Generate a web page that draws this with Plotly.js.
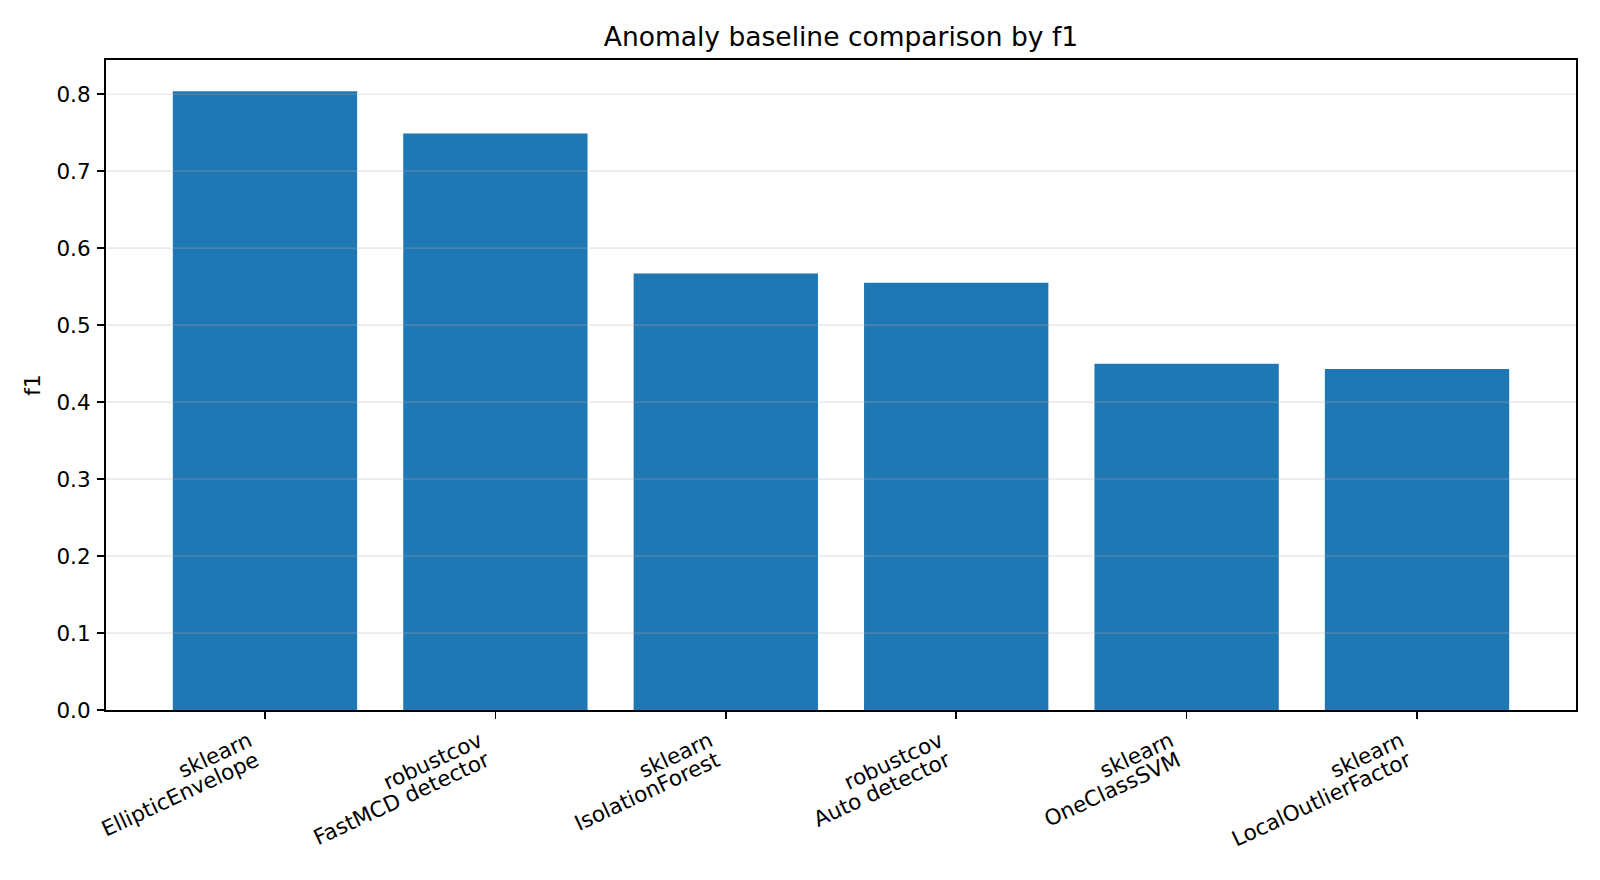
<!DOCTYPE html>
<html>
<head>
<meta charset="utf-8">
<script src="https://cdn.plot.ly/plotly-3.0.1.min.js"></script>
<style>
  html, body { margin: 0; padding: 0; background: #ffffff; }
  #chart { width: 1600px; height: 880px; }
</style>
</head>
<body>
<div id="chart"></div>
<script>
// Data
const libraries = ["sklearn", "robustcov", "sklearn", "robustcov", "sklearn", "sklearn"];
const methods = ["EllipticEnvelope", "FastMCD detector", "IsolationForest", "Auto detector", "OneClassSVM", "LocalOutlierFactor"];
const f1Scores = [0.804, 0.749, 0.567, 0.555, 0.450, 0.443];
const yTicks = [0.0, 0.1, 0.2, 0.3, 0.4, 0.5, 0.6, 0.7, 0.8];

const xIndex = methods.map((_, i) => i);

const FONT = "DejaVu Sans, Verdana, sans-serif";
const TICK_SIZE = 21.5;

const trace = {
  type: "bar",
  x: xIndex,
  y: f1Scores,
  xaxis: "x",
  yaxis: "y",
  marker: { color: "#1f77b4", line: { width: 0 } },
  hoverinfo: "skip"
};

// Gridlines drawn above the bars (as in the reference), generated from tick values
const gridShapes = yTicks.filter(v => v > 0).map(v => ({
  type: "line", xref: "paper", yref: "y", layer: "above",
  x0: 0, x1: 1, y0: v, y1: v,
  line: { color: "rgba(176,176,176,0.25)", width: 1.7 }
}));

const xRange = [-0.69, 5.69];

const layout = {
  width: 1600,
  height: 880,
  paper_bgcolor: "#ffffff",
  plot_bgcolor: "#ffffff",
  font: { family: FONT, size: TICK_SIZE, color: "#000000" },
  margin: { l: 106, r: 24, t: 60, b: 169.5, pad: 0 },
  showlegend: false,
  bargap: 0.2,
  title: {
    text: "Anomaly baseline comparison by f1",
    font: { family: FONT, size: 26.5, color: "#000000" },
    x: 0.5, xref: "paper", xanchor: "center",
    y: 1 - 37 / 880, yref: "container", yanchor: "middle"
  },
  // second line of each category label (method name) + tick marks
  xaxis: {
    type: "linear",
    range: xRange,
    tickmode: "array",
    tickvals: xIndex,
    ticktext: methods,
    tickangle: -25,
    ticklabelshift: -9,
    ticklabelstandoff: 21,
    ticks: "outside",
    ticklen: 7.5,
    tickwidth: 1.6,
    tickcolor: "#000000",
    showline: true,
    linecolor: "#000000",
    linewidth: 1.6,
    mirror: true,
    showgrid: false,
    zeroline: false,
    tickfont: { family: FONT, size: TICK_SIZE, color: "#000000" },
    automargin: false
  },
  // first line of each category label (library name)
  xaxis2: {
    type: "linear",
    overlaying: "x",
    matches: "x",
    anchor: "y",
    side: "bottom",
    range: xRange,
    tickmode: "array",
    tickvals: xIndex,
    ticktext: libraries,
    tickangle: -25,
    ticklabelshift: -16,
    ticklabelstandoff: 2,
    ticks: "outside",
    ticklen: 7.5,
    tickwidth: 1.6,
    tickcolor: "#000000",
    showline: false,
    showgrid: false,
    zeroline: false,
    tickfont: { family: FONT, size: TICK_SIZE, color: "#000000" },
    automargin: false
  },
  yaxis: {
    range: [0, 0.8445],
    tickmode: "array",
    tickvals: yTicks,
    ticktext: yTicks.map(v => v.toFixed(1)),
    ticks: "outside",
    ticklen: 7.5,
    tickwidth: 1.6,
    tickcolor: "#000000",
    ticklabelstandoff: 2,
    showline: true,
    linecolor: "#000000",
    linewidth: 1.6,
    mirror: true,
    showgrid: false,
    zeroline: false,
    tickfont: { family: FONT, size: TICK_SIZE, color: "#000000" },
    title: { text: "f1", font: { family: FONT, size: TICK_SIZE, color: "#000000" }, standoff: 10 },
    automargin: false
  },
  shapes: gridShapes
};

// an invisible companion trace puts xaxis2 into play with the same categories
const companion = {
  type: "bar", x: xIndex, y: f1Scores.map(() => null),
  xaxis: "x2", yaxis: "y", hoverinfo: "skip", showlegend: false
};

Plotly.newPlot("chart", [trace, companion], layout, { displayModeBar: false, staticPlot: true });
</script>
</body>
</html>
